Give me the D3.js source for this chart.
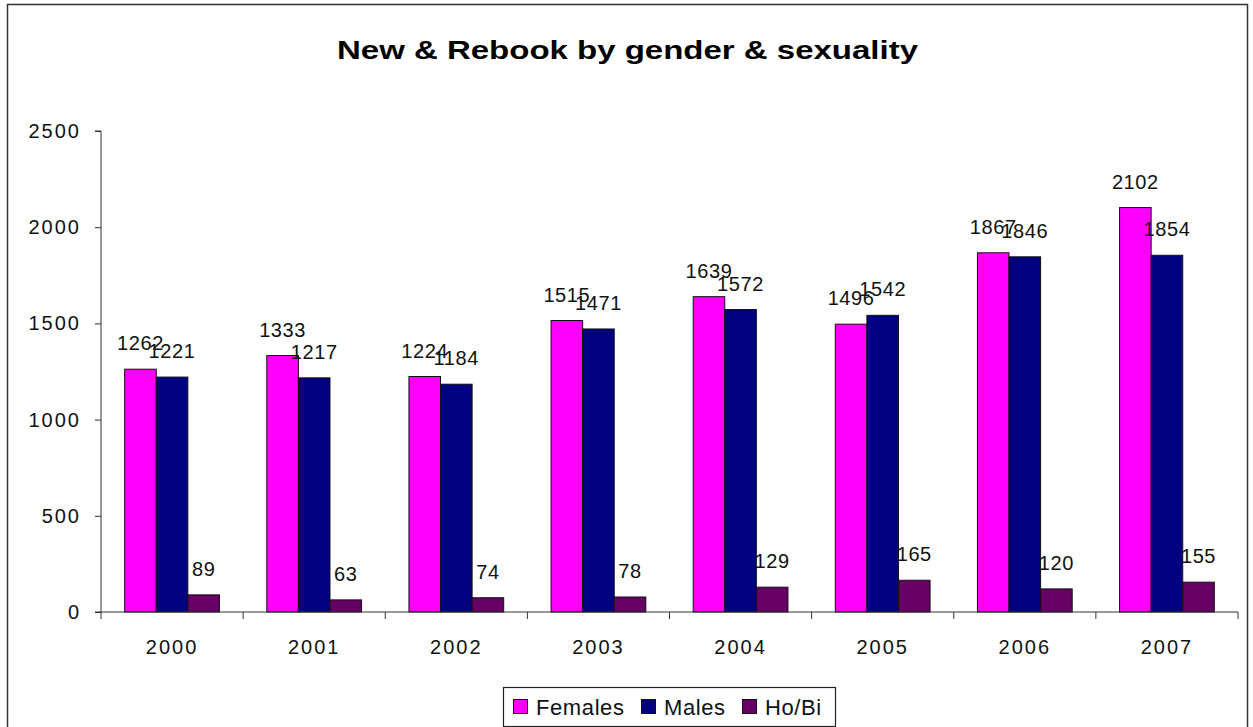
<!DOCTYPE html>
<html><head><meta charset="utf-8">
<script src="https://cdn.jsdelivr.net/npm/d3@7"></script>
<style>body{margin:0;background:#fff;} svg{display:block;font-family:Arial,"Liberation Sans",sans-serif;}</style>
</head><body>
<script>
const categories = ["2000","2001","2002","2003","2004","2005","2006","2007"];
const seriesNames = ["Females","Males","Ho/Bi"];
const females = [1262,1333,1224,1515,1639,1496,1867,2102];
const males = [1221,1217,1184,1471,1572,1542,1846,1854];
const hobi = [89,63,74,78,129,165,120,155];
const yTicks = [0,500,1000,1500,2000,2500];
const colors = ["#FF00FF","#000080","#660066"];
const seriesValues = [females, males, hobi];

(function(){
const W = 1253, H = 727;
const svg = d3.select("body").append("svg").attr("width", W).attr("height", H);
svg.append("rect").attr("x",7.5).attr("y",4.5).attr("width",1240).attr("height",730)
  .attr("fill","#fff").attr("stroke","#333").attr("stroke-width",1.5);

const pL = 101, pR = 1238, pT = 131, pB = 612;
const x = d3.scaleBand().domain(categories).range([pL, pR]);
const xs = d3.scaleBand().domain(seriesNames).range([0, x.bandwidth()]).paddingInner(0).paddingOuter(0.75);
const y = d3.scaleLinear().domain([0,2500]).range([pB, pT]);

svg.append("text").attr("x",337).attr("y",59)
  .attr("font-size",25).attr("font-weight","bold")
  .attr("textLength",581).attr("lengthAdjust","spacingAndGlyphs")
  .text("New & Rebook by gender & sexuality");

seriesValues.forEach((vals, si) => {
  svg.append("g").selectAll("rect").data(vals).join("rect")
    .attr("x",(d,i)=>x(categories[i]) + xs(seriesNames[si]))
    .attr("y",d=>y(d))
    .attr("width",xs.bandwidth())
    .attr("height",d=>pB-y(d))
    .attr("fill",colors[si]).attr("stroke","#111").attr("stroke-width",1);
});
seriesValues.forEach((vals, si) => {
  svg.append("g").selectAll("text").data(vals).join("text")
    .attr("x",(d,i)=>x(categories[i]) + xs(seriesNames[si]) + xs.bandwidth()/2)
    .attr("y",d=>y(d)-19)
    .attr("text-anchor","middle").attr("font-size",20).attr("letter-spacing","0.6px").attr("fill","#111")
    .text(d=>d);
});

const yAxis = d3.axisLeft(y).tickValues(yTicks).tickFormat(d3.format("d")).tickSize(6).tickPadding(14);
const ya = svg.append("g").attr("transform",`translate(${pL},0)`).call(yAxis);
ya.select(".domain").attr("stroke","#333").attr("d",`M-6,${pT}H0V${pB}`);
ya.selectAll(".tick line").attr("stroke","#333");
ya.selectAll(".tick text").attr("font-size",20).attr("letter-spacing","2px").attr("fill","#111")
  .attr("font-family","Arial,'Liberation Sans',sans-serif");

const xa = svg.append("g").attr("transform",`translate(0,${pB})`);
xa.append("line").attr("x1",pL-6).attr("x2",pR).attr("y1",0).attr("y2",0).attr("stroke","#333");
const bounds = categories.map(c=>x(c)).concat([pR]);
xa.selectAll("line.tk").data(bounds).join("line").attr("class","tk")
  .attr("x1",d=>d).attr("x2",d=>d).attr("y1",0).attr("y2",7).attr("stroke","#333");
xa.selectAll("text").data(categories).join("text")
  .attr("x",d=>x(d)+x.bandwidth()/2).attr("y",42).attr("text-anchor","middle")
  .attr("font-size",20).attr("letter-spacing","2px").attr("fill","#111").text(d=>d);

const lg = svg.append("g");
lg.append("rect").attr("x",503.5).attr("y",687.5).attr("width",332).attr("height",39)
  .attr("fill","#fff").attr("stroke","#222").attr("stroke-width",1.2);
const legX = [513, 641, 742];
seriesNames.forEach((n,i)=>{
  lg.append("rect").attr("x",legX[i]+0.5).attr("y",699.5).attr("width",14).attr("height",14)
    .attr("fill",colors[i]).attr("stroke","#111");
  lg.append("text").attr("x",legX[i]+23).attr("y",715).attr("font-size",22).attr("letter-spacing","0.6px")
    .attr("fill","#111").text(n);
});
})();
</script>
</body></html>
